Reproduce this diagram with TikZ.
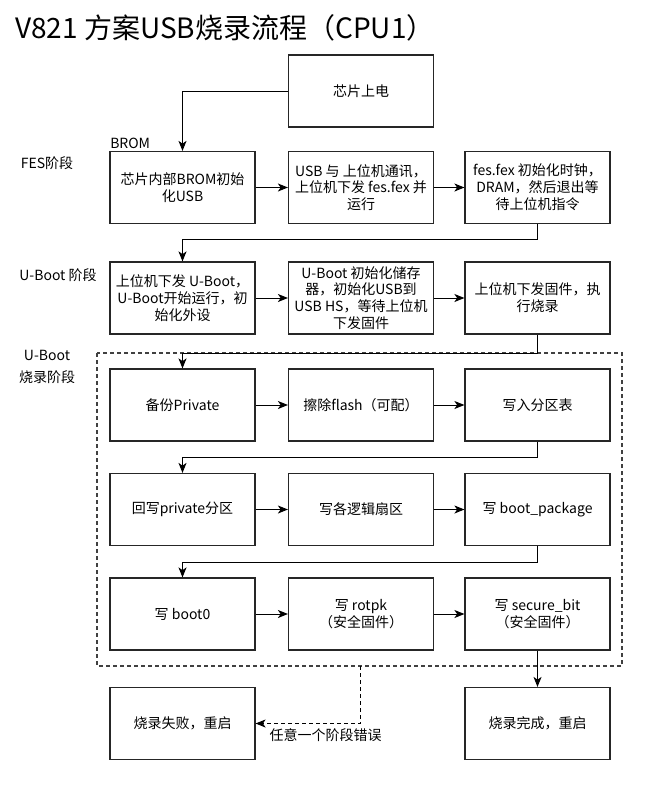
\documentclass[tikz,border=0pt]{standalone}
\usepackage{fontspec}
\setmainfont{Noto Sans CJK SC}
\usetikzlibrary{arrows.meta}

\begin{document}
\begin{tikzpicture}[x=0.75pt,y=-0.75pt,
stepbox/.style={draw=black!85,line width=0.85pt,minimum width=108.75pt,minimum height=54pt,align=center,inner sep=1pt,font=\fontsize{10.5}{12.6}\selectfont},
flow/.style={-{Stealth[length=7.5pt,width=6pt,inset=2pt]},line width=0.75pt},
lbl/.style={align=center,inner sep=0pt,font=\fontsize{10.5}{12.6}\selectfont}]
\useasboundingbox (0,0) rectangle (655,785);
%\draw[very thin,style=gray!60,step=50] (0,0) grid (655,785);
\node[anchor=base west,inner sep=0pt,font=\fontsize{21}{25}\selectfont] (title) at (15,38) {V821 方案USB烧录流程（CPU1）};
\node[stepbox] (pwr) at (361,91) {芯片上电};
% stage labels
\node[lbl,anchor=base west] (brom) at (110,148) {BROM};
\node[lbl] (fes) at (47,163) {FES阶段};
\node[lbl] (uboot) at (58,275) {U-Boot 阶段};
\node[lbl,font=\fontsize{10.5}{17}\selectfont] (burn) at (47,367) {U-Boot\\烧录阶段};
% FES
\node[stepbox] (a1) at (182.5,187.5) {芯片内部BROM初始\\化USB};
\node[stepbox] (b1) at (361,187.5) {USB 与 上位机通讯，\\上位机下发 fes.fex 并\\运行};
\node[stepbox] (c1) at (537.5,187.5) {fes.fex 初始化时钟，\\DRAM，然后退出等\\待上位机指令};
% U-Boot
\node[stepbox] (a2) at (182.5,298) {上位机下发 U-Boot，\\U-Boot开始运行，初\\始化外设};
\node[stepbox] (b2) at (361,298) {U-Boot 初始化储存\\器，初始化USB到\\USB HS，等待上位机\\下发固件};
\node[stepbox] (c2) at (537.5,298) {上位机下发固件，执\\行烧录};
% burning
\draw[black!75,line width=0.9pt,dash pattern=on 3pt off 2.25pt] (97,353) rectangle (622,666);
\node[stepbox] (a3) at (182.5,405) {备份Private};
\node[stepbox] (b3) at (361,405) {擦除flash（可配）};
\node[stepbox] (c3) at (537.5,405) {写入分区表};
\node[stepbox] (a4) at (182.5,509.5) {回写private分区};
\node[stepbox] (b4) at (361,509.5) {写各逻辑扇区};
\node[stepbox] (c4) at (537.5,509.5) {写 boot\_package};
\node[stepbox] (a5) at (182.5,614) {写 boot0};
\node[stepbox] (b5) at (361,614) {写 rotpk\\（安全固件）};
\node[stepbox] (c5) at (537.5,614) {写 secure\_bit\\（安全固件）};
\node[stepbox] (fail) at (182.5,723.5) {烧录失败，重启};
\node[stepbox] (done) at (537.5,723.5) {烧录完成，重启};
\coordinate (gb) at (360,666);

\draw[flow] (pwr.west) -| (a1.north);
\foreach\r in {1,...,5}
{
\draw[flow] (a\r) -- (b\r);
\draw[flow] (b\r) -- (c\r);
}
\foreach\r/\s/\d in {1/2/15,2/3/19,3/4/16,4/5/16}
{
\draw[flow] (c\r.south) -- ++(0,\d) -| (a\s.north);
}
\draw[flow] (c5) -- (done);
\draw[flow,dash pattern=on 3pt off 2.25pt] (gb) |- (fail.east);
\node[lbl] (err) at (325.5,735) {任意一个阶段错误};
\end{tikzpicture}
\end{document}
